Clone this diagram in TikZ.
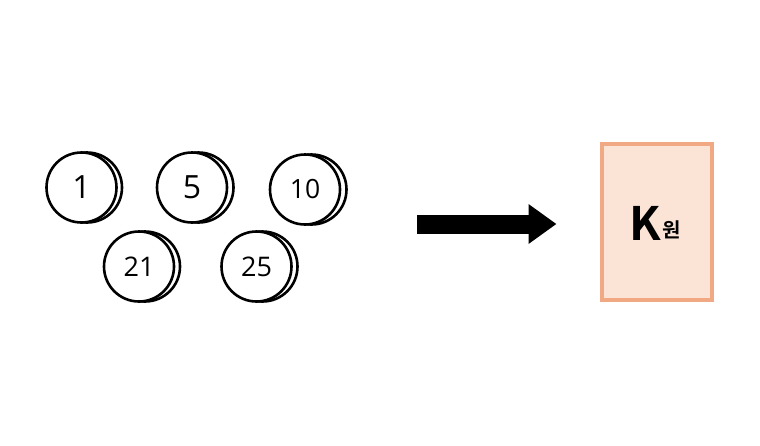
\documentclass[tikz,border=0pt]{standalone}
\usepackage{fontspec}
\setmainfont{Open Sans}
\newfontfamily\krFont{Noto Sans CJK KR Bold}
\usetikzlibrary{arrows.meta}
\newcommand{\coin}[5]{%%
  %% The coin behind, then the coin in front.
  \node[coinStyle] (#1back) at (#2+#5,#3) {};
  \node[coinStyle] (#1) at (#2,#3) {#4};
}
\newcommand{\drawCoins}{%%
  \coin{one}{81.5}{187.5}{\fontsize{32}{32}\selectfont 1}{5.5}
  \coin{five}{192}{187.5}{\fontsize{32}{32}\selectfont 5}{6.5}
  \coin{ten}{305}{189.5}{\fontsize{26.5}{26.5}\selectfont 10}{6.5}
  \coin{twentyone}{139}{266.5}{\fontsize{27}{27}\selectfont 21}{6}
  \coin{twentyfive}{256.5}{266.5}{\fontsize{27}{27}\selectfont 25}{6}
}

\begin{document}
\begin{tikzpicture}[%%
  x=1pt,y=-1pt,%%
  coinStyle/.style={circle,draw=black,fill=white,line width=2.6pt,inner sep=0pt,outer sep=0pt,minimum size=70pt},%%
  arrowStyle/.style={-{Triangle[length=28pt,width=38pt]},line width=19pt,black},%%
  boxStyle/.style={rectangle,draw=boxLine,fill=boxFill,line width=3.6pt,inner sep=0pt,outer sep=0pt,minimum width=110pt,minimum height=156pt}
]
%%
\definecolor{boxFill}{HTML}{FBE3D6}
\definecolor{boxLine}{HTML}{F1A983}
\useasboundingbox (0,0) rectangle (760,445);
\coordinate (arrowstart) at (417,224);
\coordinate (arrowend) at (556.5,224);
%%
%% The coins.
\drawCoins
%%
%% The arrow.
\draw[arrowStyle] (arrowstart) -- (arrowend);
%%
%% The box.
\node[boxStyle] (amount) at (657,222) {};
\node (amountK) at (645.5,223.5) {\krFont\fontsize{46}{46}\selectfont K};
\node (amountWon) at (671.5,229.5) {\krFont\fontsize{20}{20}\selectfont 원};
\end{tikzpicture}
\end{document}
